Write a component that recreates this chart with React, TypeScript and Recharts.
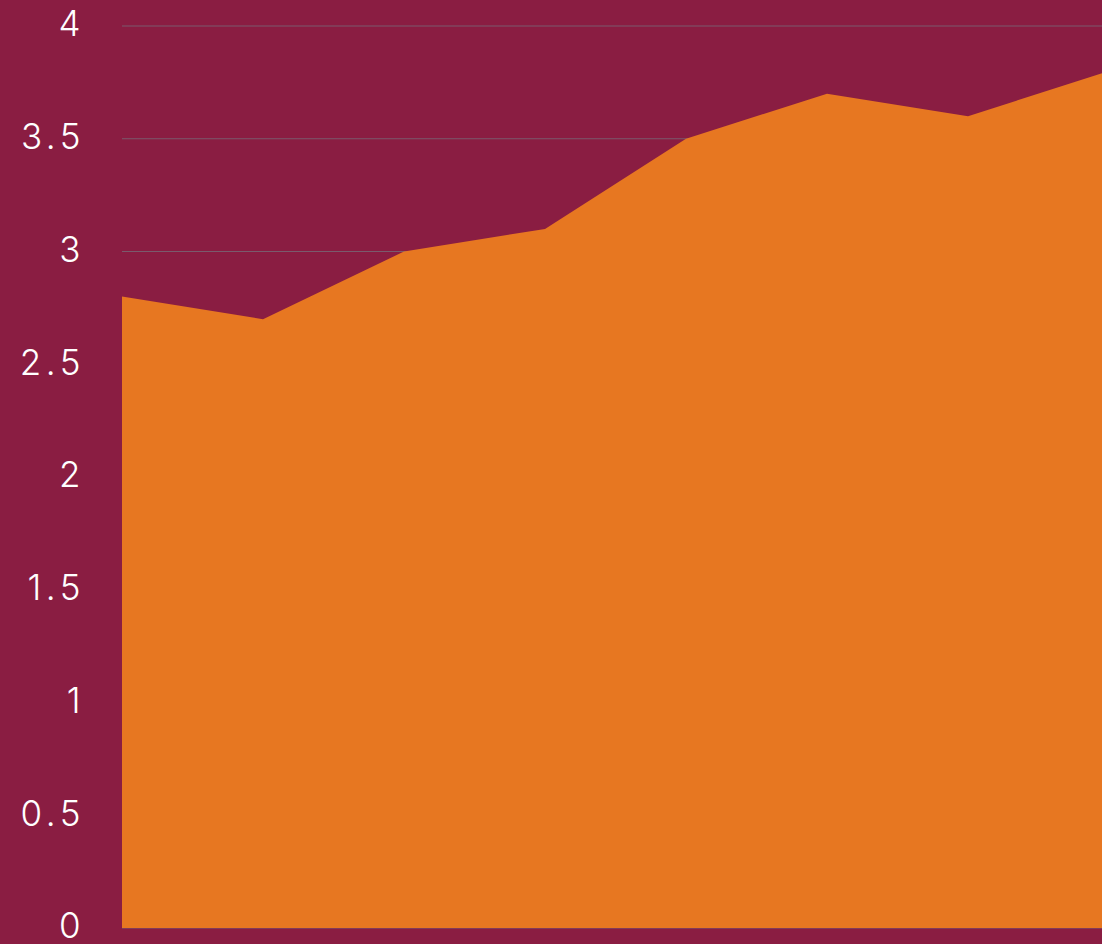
import React from 'react';
import { AreaChart, Area, XAxis, YAxis, CartesianGrid } from 'recharts';

const categories = ['1', '2', '3', '4', '5', '6', '7', '8'];
const values = [2.8, 2.7, 3.0, 3.1, 3.5, 3.7, 3.6, 3.8];
const yTicks = [0, 0.5, 1, 1.5, 2, 2.5, 3, 3.5, 4];

const data = categories.map((c, i) => ({ x: c, v: values[i] }));

const App: React.FC = () => {
  return (
    <div
      style={{
        position: 'fixed',
        top: 0,
        left: 0,
        width: 1102,
        height: 944,
        overflow: 'hidden',
        background: '#8A1D42',
      }}
    >
      <AreaChart
        width={1109}
        height={944}
        data={data}
        margin={{ top: 26, right: 0, bottom: 16, left: 0 }}
      >
        <CartesianGrid vertical={false} stroke="#7a5a6c" strokeWidth={1} />
        <XAxis dataKey="x" hide />
        <YAxis
          width={122}
          domain={[0, 4]}
          ticks={yTicks}
          interval={0}
          axisLine={false}
          tickLine={false}
          tickSize={0}
          tickMargin={37}
          tick={{
            fill: '#ffffff',
            fontSize: 35,
            fontFamily: 'Inter',
            fontWeight: 300,
            letterSpacing: 4.5,
            dy: -2,
          }}
        />
        <Area
          type="linear"
          dataKey="v"
          stroke="none"
          fill="#E77721"
          fillOpacity={1}
          isAnimationActive={false}
        />
      </AreaChart>
    </div>
  );
};

export default App;
